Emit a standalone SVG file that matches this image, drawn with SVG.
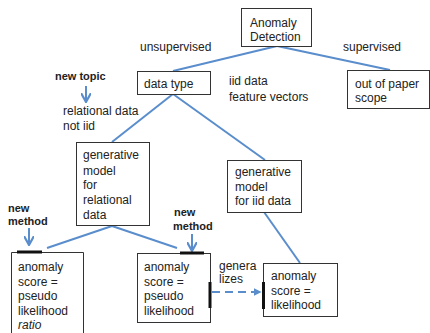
<svg xmlns="http://www.w3.org/2000/svg" width="430" height="333" viewBox="0 0 430 333">
<defs>
<style>
text{font-family:"Liberation Sans",Arial,sans-serif;font-size:12px;fill:#222}
.b{font-weight:bold;font-size:11px}
.box{fill:#fff;stroke:#333;stroke-width:1}
.ln{stroke:#5a8dcc;stroke-width:2;fill:none}
.blk{stroke:#111;stroke-width:3}
</style>
<marker id="ah" viewBox="0 0 10 10" refX="8" refY="5" markerWidth="4" markerHeight="4" orient="auto"><path d="M0,0L10,5L0,10z" fill="#5a8dcc"/></marker>
<marker id="av" viewBox="0 0 10 10" refX="8" refY="5" markerWidth="5" markerHeight="5" orient="auto"><path d="M0,0L9,5L0,10" fill="none" stroke="#5a8dcc" stroke-width="2.2"/></marker>
</defs>
<rect width="430" height="333" fill="#fff"/>
<g id="connectors">
<line class="ln" x1="277" y1="46" x2="173" y2="71"/>
<line class="ln" x1="277" y1="46" x2="390" y2="70"/>
<line class="ln" x1="173" y1="94" x2="112" y2="142"/>
<line class="ln" x1="173" y1="94" x2="265" y2="160"/>
<line class="ln" x1="112" y1="226" x2="47" y2="248"/>
<line class="ln" x1="112" y1="226" x2="177" y2="248"/>
<line class="ln" x1="264" y1="212" x2="300" y2="263"/>
<line class="ln" x1="212" y1="292" x2="260" y2="292" stroke-dasharray="8,5" marker-end="url(#ah)"/>
<line class="ln" x1="86" y1="86" x2="86" y2="101" marker-end="url(#av)"/>
<line class="ln" x1="29" y1="228" x2="29" y2="244" marker-end="url(#av)"/>
<line class="ln" x1="192" y1="234" x2="192" y2="250" marker-end="url(#av)"/>
</g>
<g id="n-anomaly-detection"><rect class="box" x="241.5" y="8.5" width="70" height="38"/><text x="250" y="27">Anomaly</text><text x="250" y="41">Detection</text></g>
<g id="n-out-of-scope"><rect class="box" x="347.5" y="70.5" width="82" height="38"/><text x="355" y="88">out of paper</text><text x="355" y="102">scope</text></g>
<g id="n-data-type"><rect class="box" x="137.5" y="71.5" width="73" height="23"/><text x="144" y="88">data type</text></g>
<g id="n-gen-relational"><rect class="box" x="76.5" y="142.5" width="73" height="83"/><text x="83" y="159">generative</text><text x="83" y="175">model</text><text x="83" y="189">for</text><text x="83" y="204">relational</text><text x="83" y="219">data</text></g>
<g id="n-gen-iid"><rect class="box" x="227.5" y="160.5" width="74" height="52"/><text x="235" y="176">generative</text><text x="235" y="191">model</text><text x="235" y="205">for iid data</text></g>
<g id="n-score-ratio"><path class="box" d="M11.5,340V252.5H83.5V340"/><line class="blk" x1="17" y1="252" x2="42" y2="252"/><text x="18" y="271">anomaly</text><text x="18" y="286">score =</text><text x="18" y="300">pseudo</text><text x="18" y="315">likelihood</text><text x="18" y="329" font-style="italic">ratio</text></g>
<g id="n-score-pseudo"><rect class="box" x="137.5" y="253.5" width="73" height="69"/><line class="blk" x1="180" y1="253" x2="204" y2="253"/><line class="blk" x1="210" y1="282" x2="210" y2="308"/><text x="144" y="271">anomaly</text><text x="144" y="286">score =</text><text x="144" y="300">pseudo</text><text x="144" y="315">likelihood</text></g>
<g id="n-score-likelihood"><rect class="box" x="263.5" y="263.5" width="74" height="53"/><line class="blk" x1="263.5" y1="282" x2="263.5" y2="309"/><text x="271" y="280">anomaly</text><text x="271" y="295">score =</text><text x="271" y="309">likelihood</text></g>
<g id="labels">
<text x="140" y="51">unsupervised</text>
<text x="343" y="51">supervised</text>
<text x="229" y="85">iid data</text>
<text x="229" y="101">feature vectors</text>
<text x="63" y="115">relational data</text>
<text x="63" y="130">not iid</text>
<text x="219" y="270">genera</text>
<text x="219" y="283">lizes</text>
<text class="b" x="55" y="80">new topic</text>
<text class="b" x="8" y="212">new</text>
<text class="b" x="8" y="225">method</text>
<text class="b" x="174" y="216">new</text>
<text class="b" x="173" y="230">method</text>
</g>
</svg>
